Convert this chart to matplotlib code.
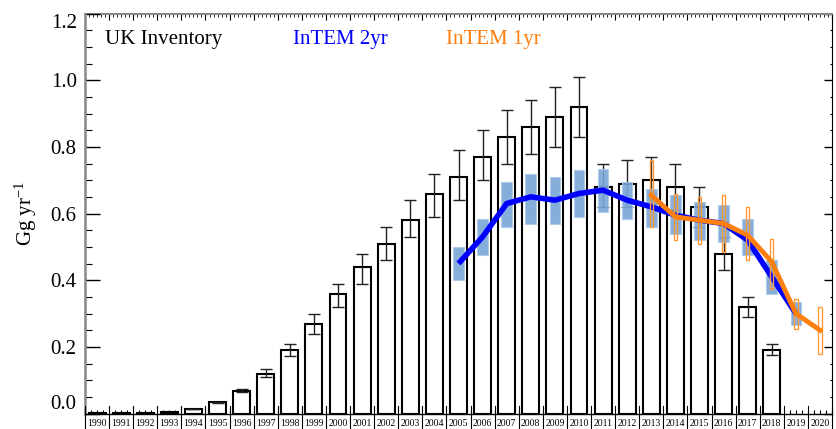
import matplotlib
matplotlib.use("Agg")
import matplotlib.pyplot as plt
import numpy as np

plt.rcParams['font.family'] = ['Liberation Serif', 'DejaVu Serif']
plt.rcParams['mathtext.fontset'] = 'stix'

# UK inventory (bars with error bars)
inv_years = np.arange(1990, 2019)
inv_vals = [0.001, 0.002, 0.002, 0.005, 0.014, 0.034, 0.068, 0.12, 0.19, 0.27,
            0.36, 0.44, 0.51, 0.58, 0.66, 0.71, 0.77, 0.83, 0.86, 0.89,
            0.92, 0.68, 0.69, 0.70, 0.68, 0.62, 0.48, 0.32, 0.19]
inv_lo = [0.001, 0.002, 0.002, 0.005, 0.014, 0.033, 0.064, 0.11, 0.172, 0.24,
          0.32, 0.39, 0.46, 0.53, 0.59, 0.64, 0.70, 0.75, 0.78, 0.80,
          0.83, 0.62, 0.62, 0.63, 0.61, 0.56, 0.43, 0.29, 0.175]
inv_hi = [0.001, 0.002, 0.002, 0.005, 0.014, 0.035, 0.074, 0.133, 0.21, 0.30,
          0.39, 0.478, 0.56, 0.64, 0.72, 0.79, 0.85, 0.91, 0.94, 0.98,
          1.01, 0.75, 0.76, 0.77, 0.75, 0.68, 0.53, 0.35, 0.21]

# InTEM 2-year inversion
i2_years = np.arange(2005, 2020)
i2_vals = [0.45, 0.53, 0.63, 0.65, 0.64, 0.66, 0.67, 0.64, 0.62, 0.595,
           0.58, 0.57, 0.52, 0.41, 0.30]
i2_lo = [0.40, 0.475, 0.56, 0.57, 0.57, 0.59, 0.605, 0.585, 0.56, 0.54,
         0.52, 0.515, 0.475, 0.36, 0.265]
i2_hi = [0.50, 0.585, 0.695, 0.72, 0.71, 0.73, 0.735, 0.695, 0.675, 0.655,
         0.635, 0.625, 0.585, 0.46, 0.335]

# InTEM 1-year inversion
i1_years = np.arange(2013, 2021)
i1_vals = [0.655, 0.59, 0.58, 0.57, 0.535, 0.455, 0.30, 0.25]
i1_lo = [0.56, 0.52, 0.51, 0.485, 0.46, 0.375, 0.255, 0.18]
i1_hi = [0.76, 0.66, 0.65, 0.655, 0.62, 0.525, 0.345, 0.32]

all_years = np.arange(1990, 2021)

fig = plt.figure(figsize=(8.36, 4.29), dpi=100)
ax = fig.add_axes([0.1017, 0.0361, 0.8935, 0.9324])

# inventory bars
inv_vals = np.array(inv_vals)
ax.bar(inv_years, inv_vals, width=0.7, facecolor='white', edgecolor='black',
       linewidth=1.5, zorder=2)
ax.errorbar(inv_years[4:], inv_vals[4:],
            yerr=[inv_vals[4:] - np.array(inv_lo[4:]), np.array(inv_hi[4:]) - inv_vals[4:]],
            fmt='none', ecolor='#222222', elinewidth=1.0, capsize=4.5,
            capthick=1.0, zorder=3)

# InTEM 2yr uncertainty boxes and line
for yr, lo, hi in zip(i2_years, i2_lo, i2_hi):
    ax.add_patch(plt.Rectangle((yr - 0.22, lo), 0.44, hi - lo,
                               facecolor='#78a6d6', edgecolor='#aecaea',
                               linewidth=0.8, alpha=0.9, zorder=4))
ax.plot(i2_years, i2_vals, color='#0000ff', linewidth=4, solid_capstyle='butt',
        zorder=5)

# InTEM 1yr uncertainty boxes and line
for yr, lo, hi in zip(i1_years, i1_lo, i1_hi):
    ax.add_patch(plt.Rectangle((yr - 0.07, lo), 0.14, hi - lo,
                               facecolor='none', edgecolor='#ff9a3a',
                               linewidth=1.0, zorder=6))
ax.plot(i1_years, i1_vals, color='#ff7f0e', linewidth=3.5, zorder=7)

ax.set_xlim(1989.5, 2020.5)
ax.set_ylim(0, 1.2)

# y axis
ax.set_yticks(np.arange(0, 1.21, 0.2))
ax.set_yticks(np.arange(0, 1.21, 0.05), minor=True)
ax.set_yticklabels(['%.1f' % v for v in np.arange(0, 1.21, 0.2)], fontsize=15)
ax.tick_params(axis='y', which='major', direction='in', length=11, width=1.0,
               pad=6)
ax.tick_params(axis='y', which='minor', direction='in', length=5, width=0.8)
ylabels = ax.get_yticklabels()
ylabels[0].set_va('bottom')
ylabels[-1].set_va('top')
ax.set_ylabel(r'Gg yr$^{\mathregular{-1}}$', fontsize=15, labelpad=8)

sec_r = ax.secondary_yaxis('right')
sec_r.set_yticks(np.arange(0, 1.21, 0.2))
sec_r.set_yticks(np.arange(0, 1.21, 0.05), minor=True)
sec_r.tick_params(which='major', direction='in', length=6, width=1.0, labelright=False)
sec_r.tick_params(which='minor', direction='in', length=1.5, width=0.8)
sec_r.spines['right'].set_linewidth(0.8)

# x axis: year labels in boxes below the axis
ax.set_xticks(all_years)
ax.set_xticklabels([str(y) for y in all_years], fontsize=7)
ax.set_xticks(np.concatenate([all_years - 0.25, all_years + 0.25]), minor=True)
ax.tick_params(axis='x', which='both', direction='in', length=3, width=0.8, pad=4)
for b in np.arange(1989.5, 2021, 1.0):
    ax.plot([b, b], [-0.04, 0.02], color='black', linewidth=0.8,
            transform=ax.get_xaxis_transform(), clip_on=False, zorder=8)

sec_t = ax.secondary_xaxis('top')
sec_t.set_xticks(np.arange(1989.5, 2021, 1.0))
sec_t.set_xticks(np.arange(1989.5, 2020.6, 1 / 6), minor=True)
sec_t.tick_params(which='major', direction='in', length=4, width=0.8, labeltop=False)
sec_t.tick_params(which='minor', direction='in', length=2, width=0.6)
sec_t.spines['top'].set_color('#888888')
sec_t.spines['top'].set_linewidth(1.5)

for side in ['top', 'right']:
    ax.spines[side].set_visible(False)
ax.spines['left'].set_color('#888888')
ax.spines['left'].set_linewidth(1.8)
ax.spines['bottom'].set_linewidth(1.0)

# legend as coloured text
ax.text(0.027, 0.934, 'UK Inventory', color='black', fontsize=15,
        transform=ax.transAxes, va='center')
ax.text(0.278, 0.934, 'InTEM 2yr', color='#0000ff', fontsize=15,
        transform=ax.transAxes, va='center')
ax.text(0.483, 0.934, 'InTEM 1yr', color='#ff7f0e', fontsize=15,
        transform=ax.transAxes, va='center')

fig.savefig('out.png', dpi=100)
